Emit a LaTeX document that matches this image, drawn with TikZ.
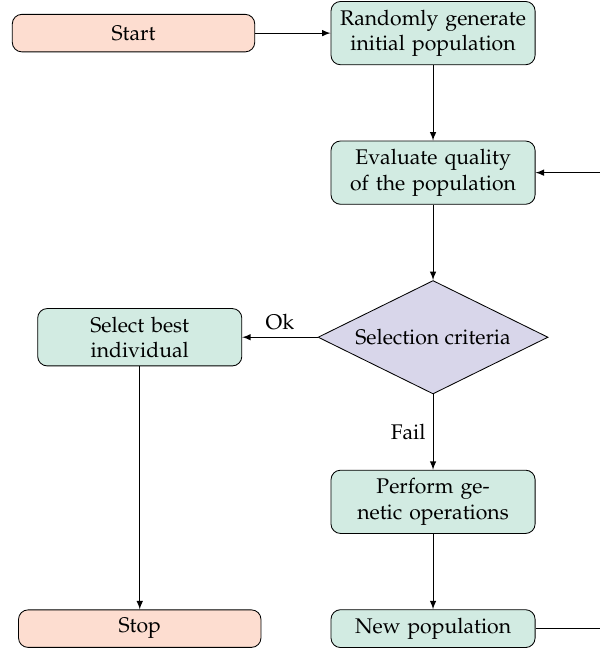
\documentclass[tikz,border=0pt]{standalone}
\usepackage[T1]{fontenc}
\usepackage{mathpazo}
\definecolor{TermPink}{RGB}{253,221,208}
\definecolor{ProcGreen}{RGB}{210,235,226}
\definecolor{DecLilac}{RGB}{216,214,234}
\usetikzlibrary{arrows,shapes,positioning}
\tikzset{
	terminal/.style={
		draw,rounded corners=4.5pt,fill=TermPink,minimum width=4.02cm,minimum height=17.7pt},
	procbox/.style={
		draw,rounded corners=4.5pt,fill=ProcGreen,text width=3.15cm,align=center,inner ysep=3.9pt,minimum height=17.7pt},
	decis/.style={
		draw,diamond,aspect=2,fill=DecLilac,inner sep=1pt,minimum width=108.5pt,minimum height=53.5pt},
	conn/.style={->,>=latex,draw}
}

\begin{document}
\begin{tikzpicture}[node distance=1.25cm]
	\node[procbox] (randgen) {Randomly generate\\initial population};
	\node[terminal,left=of randgen] (start) {Start};
	\node[procbox,below=of randgen] (evalq) {Evaluate quality\\of the population};
	\node[decis,below=of evalq] (crit) {Selection criteria};
	\node[procbox,left=of crit] (best) {Select best\\individual};
	\node[procbox,below=of crit] (genops) {Perform ge-\\netic operations};
	\node[procbox,below=of genops] (newpop) {New population};
	\node[terminal] (stop) at (best |- newpop) {Stop};
	\draw[conn] (start) -- (randgen);
	\draw[conn] (randgen) -- (evalq);
	\draw[conn] (evalq) -- (crit);
	\draw[conn] (crit) -- node[above] {Ok} (best);
	\draw[conn] (crit) -- node[left] {Fail} (genops);
	\draw[conn] (best) -- (stop);
	\draw[conn] (genops) -- (newpop);
	\draw[conn,overlay] (newpop.east) -- ++(2cm,0) |- (evalq.east); % loop back
	\path ([xshift=-5.6pt]start.west) ([yshift=0.5pt]randgen.north)
		([xshift=30pt]evalq.east) ([yshift=-1.9pt]newpop.south);
\end{tikzpicture}
\end{document}
